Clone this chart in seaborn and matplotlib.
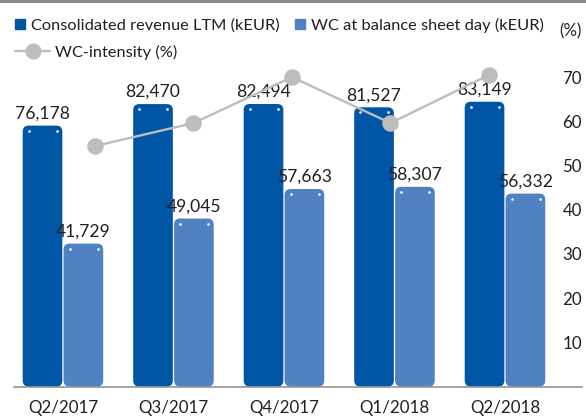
import numpy as np
import pandas as pd
import matplotlib
matplotlib.use("Agg")
import matplotlib.pyplot as plt
import seaborn as sns
from matplotlib.patches import FancyBboxPatch
from matplotlib.lines import Line2D
from matplotlib.transforms import offset_copy

# ---------------- data ----------------
quarters = ["Q2/2017", "Q3/2017", "Q4/2017", "Q1/2018", "Q2/2018"]
revenue = [76178, 82470, 82494, 81527, 83149]
wc = [41729, 49045, 57663, 58307, 56332]
intensity = [54.4, 59.6, 70.0, 59.6, 70.5]
series_names = ["Consolidated revenue LTM (kEUR)", "WC at balance sheet day (kEUR)"]
line_name = "WC-intensity (%)"
pct_ticks = [10, 20, 30, 40, 50, 60, 70]

# ---------------- style ----------------
DARK = "#0055A4"
LIGHT = "#5081C3"
GRAY = "#BDBDBD"
TEXT = "#231F20"
FS_LEG = 11.8
FS_LAB = 12.6
FS_TICK = 12.2
FS_PCT = 12.2

sns.set_theme(style="white")
plt.rcParams["font.family"] = ["Lato", "DejaVu Sans"]
plt.rcParams["text.color"] = TEXT
plt.rcParams["xtick.color"] = TEXT
plt.rcParams["ytick.color"] = TEXT

W, H = 586, 419
fig = plt.figure(figsize=(W / 100, H / 100), dpi=100)
ax_left, ax_bottom, ax_w, ax_h = 14, 386.5, 568, 346.5
pos = [ax_left / W, (H - ax_bottom) / H, ax_w / W, ax_h / H]

ax = fig.add_axes(pos)
df = pd.DataFrame({
    "quarter": quarters * 2,
    "value": revenue + wc,
    "series": [series_names[0]] * len(quarters) + [series_names[1]] * len(quarters),
})
sns.barplot(data=df, x="quarter", y="value", hue="series",
            palette=[DARK, LIGHT], saturation=1, width=0.74, gap=0.03,
            legend=False, ax=ax)

xlim = (-0.443, 4.697)
ylim = (0, ax_h * 292)
ax.set_xlim(*xlim)
ax.set_ylim(*ylim)

for cont in ax.containers:
    ax.bar_label(cont, labels=[f"{v:,.0f}" for v in cont.datavalues],
                 padding=3, fontsize=FS_LAB, color=TEXT)

# rounded bars
px_x = ax_w / (xlim[1] - xlim[0])
px_y = ax_h / (ylim[1] - ylim[0])
r = 6 / px_x
aspect = px_x / px_y
bars = []
for p in list(ax.patches):
    x, y, w, h = p.get_x(), p.get_y(), p.get_width(), p.get_height()
    fc = p.get_facecolor()
    p.remove()
    nb = FancyBboxPatch((x, y), w, h, boxstyle=f"round,pad=0,rounding_size={r}",
                        mutation_aspect=aspect, fc=fc, ec="none")
    ax.add_patch(nb)
    bars.append((x, y + h, w))

# small white decorative dots at bar tops
tl = offset_copy(ax.transData, fig=fig, x=6, y=-5, units="dots")
tr = offset_copy(ax.transData, fig=fig, x=-5.5, y=-5, units="dots")
ax.scatter([b[0] for b in bars], [b[1] for b in bars], s=3.5, c="white",
           transform=tl, zorder=5, linewidths=0)
ax.scatter([b[0] + b[2] for b in bars], [b[1] for b in bars], s=3.5, c="white",
           transform=tr, zorder=5, linewidths=0)

for s in ["top", "left", "right"]:
    ax.spines[s].set_visible(False)
ax.spines["bottom"].set_color("#8A8A8A")
ax.spines["bottom"].set_linewidth(1.1)
ax.set_yticks([])
ax.set_xlabel("")
ax.set_ylabel("")
ax.tick_params(axis="x", length=0, pad=10, labelsize=FS_TICK)

# line on separate overlay axes (right scale)
ax2 = fig.add_axes(pos, facecolor="none")
sns.pointplot(x=quarters, y=intensity, ax=ax2, color=GRAY, markers="o",
              errorbar=None, markersize=10.6, linewidth=1.7)
ax2.set_xlim(-0.822, 4.944)
ax2.set_ylim(0, ax_h / 4.42)
ax2.xaxis.set_visible(False)
for s in ax2.spines.values():
    s.set_visible(False)
ax2.yaxis.tick_right()
ax2.set_yticks(pct_ticks)
ax2.set_yticklabels([str(t) for t in pct_ticks])
ax2.tick_params(axis="y", length=0, pad=0, labelsize=FS_PCT)
for lab in ax2.get_yticklabels():
    lab.set_ha("right")
ax2.set_ylabel("")
ax2.text(1.0, 1 + 9 / ax_h, "(%)", transform=ax2.transAxes, ha="right",
         va="center", fontsize=FS_PCT)

# top border line
fig.add_artist(Line2D([0, 1], [1 - 1.5 / H] * 2, transform=fig.transFigure,
                      color="#8C8C8C", lw=2.2))

# legends
fs_px = FS_LEG * 100 / 72
h1 = [Line2D([], [], marker="s", ls="none", color=DARK, markersize=7.2),
      Line2D([], [], marker="s", ls="none", color=LIGHT, markersize=7.2)]
fig.legend(handles=h1, labels=series_names, loc="center left",
           bbox_to_anchor=(15 / W, 1 - 25 / H), ncol=2, frameon=False,
           borderpad=0, borderaxespad=0, handlelength=10 / fs_px,
           handletextpad=6 / fs_px, columnspacing=15 / fs_px, fontsize=FS_LEG)
h2 = [Line2D([], [], color=GRAY, lw=1.7, marker="o", markersize=10.6)]
fig.legend(handles=h2, labels=[line_name], loc="center left",
           bbox_to_anchor=(15 / W, 1 - 52 / H), frameon=False,
           borderpad=0, borderaxespad=0, handlelength=35 / fs_px,
           handletextpad=5 / fs_px, fontsize=FS_LEG)

fig.savefig("out.png", dpi=100)
